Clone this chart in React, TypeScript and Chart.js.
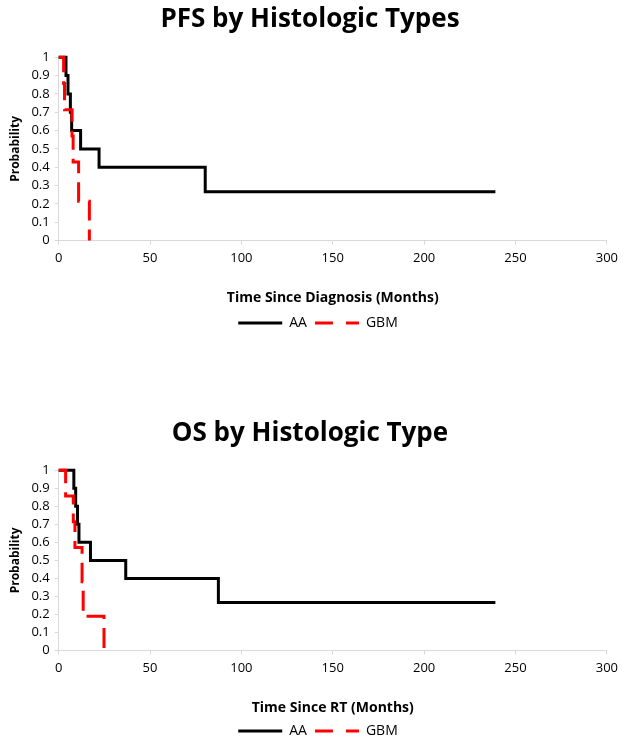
import React, { useEffect, useRef } from "react";
import { Chart, registerables } from "chart.js";

Chart.register(...registerables);

// ---- Data (Kaplan-Meier event times in months and survival after each event) ----
const seriesNames = ["AA", "GBM"];

const pfsAATimes = [0, 4.0, 5.1, 6.4, 7.1, 12.0, 22.1, 80.2, 239];
const pfsAASurv = [1, 0.9, 0.8, 0.7, 0.6, 0.5, 0.4, 0.267, 0.267];
const pfsGBMTimes = [0, 2.7, 3.2, 7.3, 7.9, 10.9, 16.8];
const pfsGBMSurv = [1, 0.857, 0.714, 0.571, 0.429, 0.214, 0];

const osAATimes = [0, 8.3, 9.3, 10.3, 11.1, 17.4, 36.7, 87.4, 239];
const osAASurv = [1, 0.9, 0.8, 0.7, 0.6, 0.5, 0.4, 0.267, 0.267];
const osGBMTimes = [0, 3.8, 8.0, 8.9, 12.8, 13.4, 24.8];
const osGBMSurv = [1, 0.857, 0.714, 0.571, 0.381, 0.19, 0];

const xTickLabels = ["0", "50", "100", "150", "200", "250", "300"];
const yTickLabels = ["0", "0.1", "0.2", "0.3", "0.4", "0.5", "0.6", "0.7", "0.8", "0.9", "1"];

const FONT = "'Open Sans', 'DejaVu Sans', sans-serif";

function toPoints(t: number[], s: number[]) {
  return t.map((x, i) => ({ x, y: s[i] }));
}

type Panel = {
  title: string;
  xTitle: string;
  aaT: number[];
  aaS: number[];
  gbmT: number[];
  gbmS: number[];
  height: number;
  titlePad: { top: number; bottom: number };
  xTitlePad: { top: number; bottom: number };
  legendPad: number;
};

const legendShift = {
  id: "legendShift",
  afterLayout(chart: any) {
    const l = chart.legend;
    if (l) {
      l.left += 8;
      l.right += 8;
    }
  },
};

function makeConfig(p: Panel): any {
  return {
    type: "line",
    data: {
      datasets: [
        {
          label: seriesNames[0],
          data: toPoints(p.aaT, p.aaS),
          borderColor: "#000000",
          backgroundColor: "#000000",
          borderWidth: 3,
          stepped: "before",
          pointRadius: 0,
          fill: false,
          clip: false,
          order: 1,
        },
        {
          label: seriesNames[1],
          data: toPoints(p.gbmT, p.gbmS),
          borderColor: "#ff0000",
          backgroundColor: "#ff0000",
          borderWidth: 3,
          borderDash: [20, 9],
          stepped: "before",
          pointRadius: 0,
          fill: false,
          clip: false,
          order: 0,
        },
      ],
    },
    plugins: [legendShift],
    options: {
      responsive: false,
      animation: false,
      devicePixelRatio: 1,
      layout: { padding: { left: 8, right: 12, top: 0, bottom: 0 } },
      plugins: {
        tooltip: { enabled: false },
        title: {
          display: true,
          text: p.title,
          color: "#000",
          font: { family: FONT, size: 26, weight: "bold" },
          padding: p.titlePad,
        },
        legend: {
          display: true,
          position: "bottom",
          labels: {
            color: "#000",
            font: { family: FONT, size: 14 },
            usePointStyle: true,
            pointStyle: "line",
            pointStyleWidth: 44,
            boxWidth: 44,
            boxHeight: 3,
            padding: p.legendPad,
            generateLabels: (chart: any) => {
              const items = (Chart.defaults.plugins.legend.labels as any).generateLabels(chart);
              items.forEach((it: any) => {
                const ds = chart.data.datasets[it.datasetIndex];
                it.lineDash = ds.borderDash ? [18, 13] : [];
                it.lineWidth = 3;
                it.strokeStyle = ds.borderColor;
                it.fillStyle = ds.borderColor;
              });
              items.sort((a: any, b: any) => a.datasetIndex - b.datasetIndex);
              return items;
            },
          },
        },
      },
      scales: {
        x: {
          type: "linear",
          min: 0,
          max: 300,
          ticks: {
            stepSize: 50,
            autoSkip: false,
            maxRotation: 0,
            color: "#000",
            font: { family: FONT, size: 13 },
            padding: 6,
            callback: (_v: any, i: number) => xTickLabels[i],
          },
          grid: {
            display: true,
            drawOnChartArea: false,
            drawTicks: true,
            tickLength: 4,
            color: "#d9d9d9",
          },
          border: { display: true, color: "#d9d9d9", width: 1 },
          title: {
            display: true,
            text: p.xTitle,
            color: "#000",
            font: { family: FONT, size: 14, weight: "bold" },
            padding: p.xTitlePad,
          },
        },
        y: {
          type: "linear",
          min: 0,
          max: 1,
          ticks: {
            stepSize: 0.1,
            autoSkip: false,
            color: "#000",
            font: { family: FONT, size: 13 },
            padding: 5,
            callback: (_v: any, i: number) => yTickLabels[i],
          },
          grid: {
            display: true,
            drawOnChartArea: false,
            drawTicks: true,
            tickLength: 4,
            color: "#d9d9d9",
          },
          border: { display: true, color: "#d9d9d9", width: 1 },
          title: {
            display: true,
            text: "Probability",
            color: "#000",
            font: { family: FONT, size: 12, weight: "bold" },
            padding: { top: 0, bottom: 4 },
          },
        },
      },
    },
  };
}

const panels: Panel[] = [
  {
    title: "PFS by Histologic Types",
    xTitle: "Time Since Diagnosis (Months)",
    aaT: pfsAATimes,
    aaS: pfsAASurv,
    gbmT: pfsGBMTimes,
    gbmS: pfsGBMSurv,
    height: 340,
    titlePad: { top: 4, bottom: 22 },
    xTitlePad: { top: 17, bottom: 2 },
    legendPad: 8,
  },
  {
    title: "OS by Histologic Type",
    xTitle: "Time Since RT (Months)",
    aaT: osAATimes,
    aaS: osAASurv,
    gbmT: osGBMTimes,
    gbmS: osGBMSurv,
    height: 334,
    titlePad: { top: 4, bottom: 21 },
    xTitlePad: { top: 17, bottom: 0 },
    legendPad: 8,
  },
];

function ChartPanel({ panel, top }: { panel: Panel; top: number }) {
  const ref = useRef<HTMLCanvasElement | null>(null);
  useEffect(() => {
    if (!ref.current) return;
    const chart = new Chart(ref.current, makeConfig(panel));
    return () => chart.destroy();
  }, [panel]);
  return (
    <canvas
      ref={ref}
      width={624}
      height={panel.height}
      style={{ position: "absolute", left: 0, top, width: 624, height: panel.height }}
    />
  );
}

export default function App() {
  return (
    <div
      style={{
        position: "absolute",
        left: 0,
        top: 0,
        width: 624,
        height: 743,
        background: "#fff",
        overflow: "hidden",
      }}
    >
      <ChartPanel panel={panels[0]} top={0} />
      <ChartPanel panel={panels[1]} top={414} />
    </div>
  );
}
